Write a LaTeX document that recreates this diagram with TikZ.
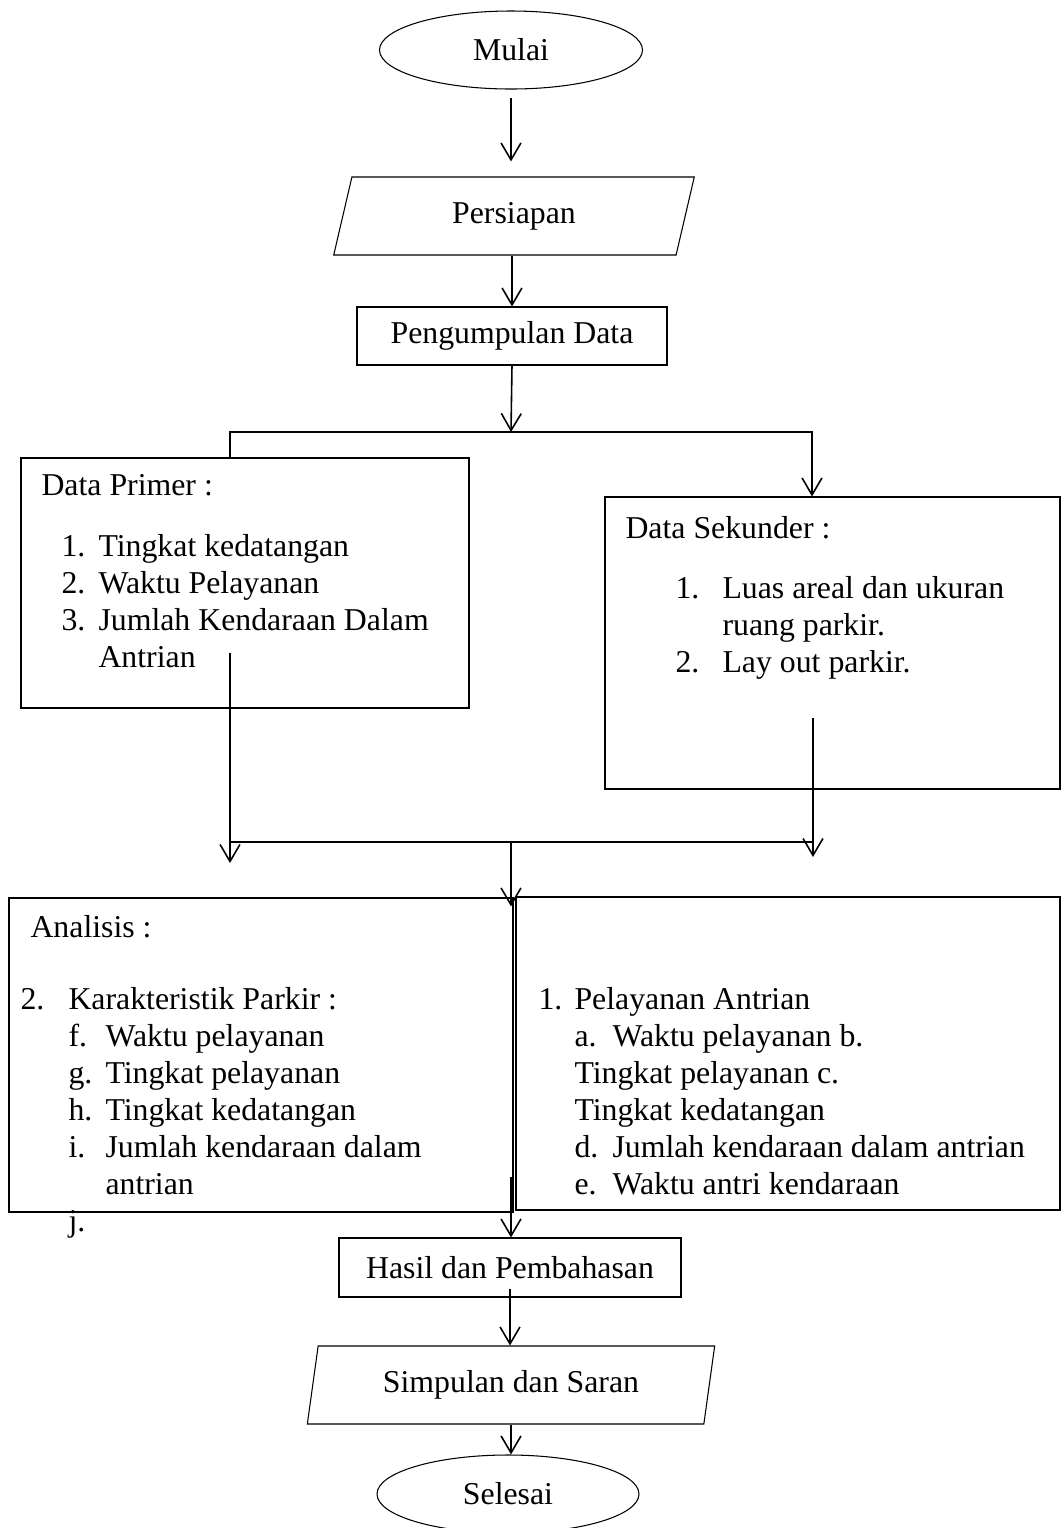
\documentclass[tikz,border=0pt]{standalone}
\usepackage{fontspec}
\setmainfont{Liberation Serif}
\usetikzlibrary{shapes.geometric,arrows.meta}
\newdimen\px \px=0.3774pt

\begin{document}
\begin{tikzpicture}[x=0.3774pt, y=-0.3774pt,
    every node/.style={font=\fontsize{12pt}{13.96pt}\selectfont},
    box/.style={draw, line width=0.4pt, inner sep=0pt},
    term/.style={box, ellipse, minimum width=263\px, minimum height=78\px},
    io/.style={box, trapezium, trapezium left angle=76, trapezium right angle=104,
      trapezium stretches=true, minimum height=78\px},
    txt/.style={anchor=base west, align=left, inner sep=0pt},
    arr/.style={-{Straight Barb[length=6.4pt,width=7.5pt]}, line width=0.6pt}]
    \useasboundingbox (0,0) rectangle (1061,1528);

    \node[term] (mulai) at (511,50) {Mulai};
    \node[io, minimum width=362\px] (persiapan) at (514,216) {Persiapan};
    \node[box, minimum width=310\px, minimum height=58\px] (kumpul) at (512,336) {Pengumpulan Data};
    \node[box, minimum width=448\px, minimum height=250\px] (primer) at (245,583) {};
    \node[box, minimum width=455\px, minimum height=292\px] (sekunder) at (832.5,643) {};
    \node[box, minimum width=504\px, minimum height=314\px] (anaL) at (261,1055) {};
    \node[box, minimum width=544\px, minimum height=313\px] (anaR) at (788,1053.5) {};
    \node[box, minimum width=342\px, minimum height=59\px] (hasil) at (510,1267.5) {Hasil dan Pembahasan};
    \node[io, minimum width=408\px] (simpulan) at (511,1385) {Simpulan dan Saran};
    \node[term, minimum width=262\px] (selesai) at (508,1494) {Selesai};

    \node[txt] (primTxt) at (41,667) {Data Primer :\\[24\px]
      \hspace*{20\px}\makebox[37\px][l]{1.}Tingkat kedatangan\\
      \hspace*{20\px}\makebox[37\px][l]{2.}Waktu Pelayanan\\
      \hspace*{20\px}\makebox[37\px][l]{3.}Jumlah Kendaraan Dalam\\
      \hspace*{57\px}Antrian};
    \node[txt] (sekTxt) at (625,672) {Data Sekunder :\\[23\px]
      \hspace*{50\px}\makebox[47\px][l]{1.}Luas areal dan ukuran\\
      \hspace*{97\px}ruang parkir.\\
      \hspace*{50\px}\makebox[47\px][l]{2.}Lay out parkir.};
    \node[txt] (anaLTxt) at (20,1231) {\hspace*{10\px}Analisis :\\[35\px]
      \makebox[48\px][l]{2.}Karakteristik Parkir :\\
      \hspace*{48\px}\makebox[37\px][l]{f.}Waktu pelayanan\\
      \hspace*{48\px}\makebox[37\px][l]{g.}Tingkat pelayanan\\
      \hspace*{48\px}\makebox[37\px][l]{h.}Tingkat kedatangan\\
      \hspace*{48\px}\makebox[37\px][l]{i.}Jumlah kendaraan dalam\\
      \hspace*{85\px}antrian\\
      \hspace*{48\px}j.};
    \node[txt] (anaRTxt) at (538,1194) {\makebox[36\px][l]{1.}Pelayanan Antrian\\
      \hspace*{36\px}\makebox[38\px][l]{a.}Waktu pelayanan b.\\
      \hspace*{36\px}Tingkat pelayanan c.\\
      \hspace*{36\px}Tingkat kedatangan\\
      \hspace*{36\px}\makebox[38\px][l]{d.}Jumlah kendaraan dalam antrian\\
      \hspace*{36\px}\makebox[38\px][l]{e.}Waktu antri kendaraan};

    \coordinate (split) at (511,432);
    \coordinate (primIn) at (230,432);
    \coordinate (sekIn) at (812,432);
    \coordinate (primOut) at (230,653);
    \coordinate (sekOut) at (813,718);
    \coordinate (join) at (511,842);
    \coordinate (anaOut) at (511,1177);

    \draw[arr, shorten <=8\px, shorten >=15\px] (mulai.south) -- (mulai.south |- persiapan.north);
    \draw[arr] (kumpul.north |- persiapan.south) -- (kumpul.north);
    \draw[arr] (kumpul.south) -- (split);
    \draw[arr] (primIn |- primer.north) -- (primIn) -- (sekIn) -- (sekIn |- sekunder.north);
    \draw[arr, shorten >=-21\px] (primOut) -- (primOut |- join);
    \draw[arr, shorten >=-15\px] (sekOut) -- (sekOut |- join);
    \draw[line width=0.6pt] (primOut |- join) -- (sekOut |- join);
    \draw[arr, shorten >=-9\px] (join) -- (join |- anaL.north);
    \draw[arr] (anaOut) -- (anaOut |- hasil.north);
    \draw[arr, shorten <=-9\px] (hasil.south) -- (hasil.south |- simpulan.north);
    \draw[arr] (simpulan.south) -- (simpulan.south |- selesai.north);
\end{tikzpicture}
\end{document}
